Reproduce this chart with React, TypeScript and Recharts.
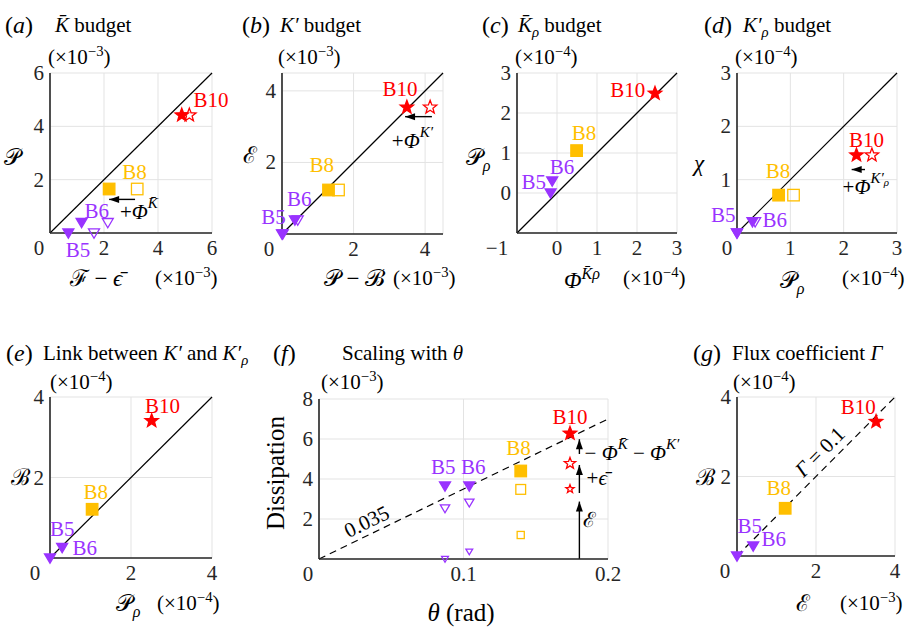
import React from "react";
import {
  ScatterChart,
  Scatter,
  XAxis,
  YAxis,
  CartesianGrid,
  ReferenceLine,
  ReferenceDot,
} from "recharts";

// run order for every array below: B5, B6, B8, B10
const RUNS = ["B5", "B6", "B8", "B10"];

// (a) K̄ budget, ×10^-3
const aFilledX = [0.68, 1.17, 2.19, 4.88];
const aOpenX = [1.63, 2.14, 3.23, 5.16];
const aY = [0, 0.39, 1.65, 4.42];
// (b) K' budget, ×10^-3
const bFilledX = [0, 0.36, 1.3, 3.49];
const bOpenX = [0.02, 0.44, 1.58, 4.14];
const bY = [0, 0.39, 1.23, 3.54];
// (c) K̄ρ budget, ×10^-4
const cX = [-0.16, -0.12, 0.49, 2.45];
const cY = [0, 0.3, 1.06, 2.49];
// (d) K'ρ budget, ×10^-4
const dFilledX = [0, 0.29, 0.78, 2.24];
const dOpenX = [0, 0.34, 1.06, 2.53];
const dY = [0, 0.21, 0.71, 1.46];
// (e) link between K' and K'ρ, ×10^-4
const eX = [0, 0.3, 1.04, 2.51];
const eY = [0, 0.26, 1.21, 3.41];
// (f) scaling with θ, dissipation ×10^-3
const fTheta = [0.0872, 0.104, 0.1396, 0.1737];
const fTotal = [3.65, 3.65, 4.4, 6.28];
const fWithMean = [2.53, 2.82, 3.48, 4.78];
const fEps = [0, 0.37, 1.2, 3.5];
// (g) flux coefficient, x ×10^-3, y ×10^-4
const gX = [0, 0.41, 1.22, 3.52];
const gY = [0, 0.25, 1.2, 3.38];

const SERIF = '"Liberation Serif", serif';
const PURPLE = "#9933ff";
const GOLD = "#ffbf00";
const RED = "#ff0000";
const AX = "#262626";
const GRID = "#e3e3e3";
const RUN_COLOR: Record<string, string> = { B5: PURPLE, B6: PURPLE, B8: GOLD, B10: RED };
const RUN_MARK: Record<string, string> = { B5: "tri", B6: "tri", B8: "sq", B10: "star" };

const CAL_P = "𝒫";
const CAL_B = "ℬ";
const CAL_E = "ℰ";
const CAL_F = "ℱ";

const PADL = 60;
const PADT = 30;
const PADB = 50;
const YW = 40;
const XH = 40;
const FS = 21;

const rows = (xs: number[], ys: number[]) => RUNS.map((run, i) => ({ run, x: xs[i], y: ys[i] }));

function starPath(cx: number, cy: number, R: number) {
  const r = R * 0.42;
  let d = "";
  for (let i = 0; i < 10; i++) {
    const a = (-90 + i * 36) * (Math.PI / 180);
    const rad = i % 2 === 0 ? R : r;
    d += (i === 0 ? "M" : "L") + (cx + rad * Math.cos(a)).toFixed(2) + "," + (cy + rad * Math.sin(a)).toFixed(2);
  }
  return d + "Z";
}

function Marker({ cx, cy, run, open, scale }: any) {
  const c = RUN_COLOR[run];
  const kind = RUN_MARK[run];
  const fill = open ? "none" : c;
  const sw = 1.3;
  if (kind === "star") {
    return <path d={starPath(cx, cy, 7 * scale)} fill={fill} stroke={c} strokeWidth={sw} />;
  }
  if (kind === "sq") {
    const s = 11.5 * scale;
    return <rect x={cx - s / 2} y={cy - s / 2} width={s} height={s} fill={fill} stroke={c} strokeWidth={sw} />;
  }
  const h = 5.5 * scale;
  return (
    <polygon
      points={`${cx - h},${cy - h * 0.75} ${cx + h},${cy - h * 0.75} ${cx},${cy + h * 0.95}`}
      fill={fill}
      stroke={c}
      strokeWidth={sw}
      strokeLinejoin="miter"
    />
  );
}

const markerShape = (open: boolean, scale = 1) => (p: any) =>
  <Marker cx={p.cx} cy={p.cy} run={p.payload.run} open={open} scale={scale} />;

function series(key: string, xs: number[], ys: number[], open: boolean, scale = 1) {
  return (
    <Scatter
      key={key}
      data={rows(xs, ys)}
      dataKey="y"
      isAnimationActive={false}
      shape={markerShape(open, scale)}
    />
  );
}

function runLabels(key: string, lx: number[], ly: number[]) {
  return RUNS.map((run, i) => (
    <ReferenceDot
      key={key + run}
      x={lx[i]}
      y={ly[i]}
      ifOverflow="visible"
      shape={(p: any) => (
        <text
          x={p.cx}
          y={p.cy}
          textAnchor="middle"
          dominantBaseline="central"
          fontFamily={SERIF}
          fontSize={FS}
          fill={RUN_COLOR[run]}
        >
          {run}
        </text>
      )}
    />
  ));
}

function arrow(key: string, x1: number, y1: number, x2: number, y2: number, dir: "left" | "up") {
  return [
    <ReferenceLine
      key={key + "l"}
      segment={[{ x: x1, y: y1 }, { x: x2, y: y2 }]}
      ifOverflow="visible"
      stroke="#000"
      strokeWidth={1.4}
    />,
    <ReferenceDot
      key={key + "h"}
      x={x2}
      y={y2}
      ifOverflow="visible"
      shape={(p: any) => {
        const { cx, cy } = p;
        const pts =
          dir === "left"
            ? `${cx},${cy} ${cx + 10},${cy - 3.5} ${cx + 10},${cy + 3.5}`
            : `${cx},${cy} ${cx - 3.5},${cy + 10} ${cx + 3.5},${cy + 10}`;
        return <polygon points={pts} fill="#000" />;
      }}
    />,
  ];
}

function note(key: string, x: number, y: number, content: React.ReactNode, anchor = "start", rotate = 0) {
  return (
    <ReferenceDot
      key={key}
      x={x}
      y={y}
      ifOverflow="visible"
      shape={(p: any) => (
        <text
          x={p.cx}
          y={p.cy}
          textAnchor={anchor}
          dominantBaseline="central"
          fontFamily={SERIF}
          fontSize={FS}
          fill="#000"
          transform={rotate ? `rotate(${rotate} ${p.cx} ${p.cy})` : undefined}
        >
          {content}
        </text>
      )}
    />
  );
}

function diag(key: string, x2: number, y2: number, dashed = false, x1 = 0, y1 = 0) {
  return (
    <ReferenceLine
      key={key}
      segment={[{ x: x1, y: y1 }, { x: x2, y: y2 }]}
      ifOverflow="visible"
      stroke="#000"
      strokeWidth={1.2}
      strokeDasharray={dashed ? "7 5" : undefined}
    />
  );
}

const xTick = (shift0: number) => (p: any) => {
  const v = p.payload.value;
  const label = v < 0 ? "\u2212" + Math.abs(v) : String(v);
  const dx = p.index === 0 ? -shift0 : 0;
  return (
    <text x={p.x + dx} y={p.y + 22} textAnchor="middle" fontFamily={SERIF} fontSize={FS} fill="#262626">
      {label}
    </text>
  );
};

const yTick = (p: any) => {
  if (p.index === 0) return <g />;
  const v = p.payload.value;
  const label = v < 0 ? "\u2212" + Math.abs(v) : String(v);
  return (
    <text x={p.x - 6} y={p.y + 7} textAnchor="end" fontFamily={SERIF} fontSize={FS} fill="#262626">
      {label}
    </text>
  );
};

function Panel({ r, xd, yd, xt, yt, shift0 = 12, padR = 70, items }: any) {
  const W = r.x1 - r.x0 + PADL + padR;
  const H = r.y1 - r.y0 + PADT + PADB;
  return (
    <div style={{ position: "absolute", left: r.x0 - PADL, top: r.y0 - PADT }}>
      <ScatterChart
        width={W}
        height={H}
        margin={{ top: PADT, right: padR, bottom: PADB - XH, left: PADL - YW }}
      >
        <CartesianGrid stroke={GRID} strokeWidth={1} />
        <XAxis
          type="number"
          dataKey="x"
          domain={xd}
          ticks={xt}
          interval={0}
          height={XH}
          tickSize={0}
          tickMargin={0}
          tickLine={false}
          axisLine={{ stroke: AX, strokeWidth: 1.6 }}
          tick={xTick(shift0)}
        />
        <YAxis
          type="number"
          dataKey="y"
          domain={yd}
          ticks={yt}
          interval={0}
          width={YW}
          tickSize={0}
          tickMargin={0}
          tickLine={false}
          axisLine={{ stroke: AX, strokeWidth: 1.6 }}
          tick={yTick}
        />
        {items}
      </ScatterChart>
    </div>
  );
}

function T({ x, y, s = FS, a = "middle", rot = 0, children }: any) {
  const tx = a === "middle" ? "-50%" : a === "end" ? "-100%" : "0";
  return (
    <div
      style={{
        position: "absolute",
        left: x,
        top: y,
        transform: `translate(${tx}, -50%)${rot ? ` rotate(${rot}deg)` : ""}`,
        transformOrigin: "center",
        fontSize: s,
        fontFamily: SERIF,
        whiteSpace: "nowrap",
        lineHeight: 1,
        color: "#000",
      }}
    >
      {children}
    </div>
  );
}

const Sup = ({ children }: any) => (
  <span style={{ fontSize: "0.7em", position: "relative", top: "-0.55em" }}>{children}</span>
);
const Sub = ({ children }: any) => (
  <span style={{ fontSize: "0.7em", position: "relative", top: "0.35em" }}>{children}</span>
);
const Mult = ({ e }: any) => (
  <span>
    (×10<Sup>{"\u2212" + e}</Sup>)
  </span>
);

function Title({ x, x2, y, letter, children }: any) {
  return [
    <T key="l" x={x} y={y} s={24} a="start">
      (<i>{letter}</i>)
    </T>,
    <T key="t" x={x2} y={y} s={21} a="start">
      {children}
    </T>,
  ];
}

export default function App() {
  return (
    <div style={{ position: "absolute", left: 0, top: 0, width: 906, height: 630, background: "#fff", overflow: "hidden" }}>
      {/* (a) */}
      <Panel
        r={{ x0: 50, y0: 73, x1: 212, y1: 233 }}
        xd={[0, 6]}
        yd={[0, 6]}
        xt={[0, 2, 4, 6]}
        yt={[0, 2, 4, 6]}
        shift0={11}
        items={[
          diag("a-d", 6, 6),
          series("a-o", aOpenX, aY, true),
          series("a-f", aFilledX, aY, false),
          ...arrow("a-ar", 3.15, 1.26, 2.19, 1.26, "left"),
          note("a-n", 2.59, 0.78, [
            <tspan key="1">+</tspan>,
            <tspan key="2" fontStyle="italic">Φ</tspan>,
            <tspan key="3" dy={-9} fontSize={15} fontStyle="italic">K̄</tspan>,
          ]),
          ...runLabels("a-l", [1.04, 1.73, 3.13, 5.96], [-0.64, 0.84, 2.28, 4.99]),
        ]}
      />
      {/* (b) */}
      <Panel
        r={{ x0: 282, y0: 73, x1: 443, y1: 234 }}
        xd={[0, 4.5]}
        yd={[0, 4.5]}
        xt={[0, 2, 4]}
        yt={[0, 2, 4]}
        shift0={13}
        items={[
          diag("b-d", 4.5, 4.5),
          series("b-o", bOpenX, bY, true),
          series("b-f", bFilledX, bY, false),
          ...arrow("b-ar", 4.19, 3.28, 3.44, 3.28, "left"),
          note("b-n", 3.07, 2.61, [
            <tspan key="1">+</tspan>,
            <tspan key="2" fontStyle="italic">Φ</tspan>,
            <tspan key="3" dy={-9} fontSize={15} fontStyle="italic">K′</tspan>,
          ]),
          ...runLabels("b-l", [-0.24, 0.48, 1.11, 3.3], [0.48, 0.97, 1.93, 4.05]),
        ]}
      />
      {/* (c) */}
      <Panel
        r={{ x0: 517, y0: 73, x1: 677, y1: 233 }}
        xd={[-1, 3]}
        yd={[-1, 3]}
        xt={[-1, 0, 1, 2, 3]}
        yt={[-1, 0, 1, 2, 3]}
        shift0={20}
        items={[
          diag("c-d", 3, 3, false, -1, -1),
          series("c-f", cX, cY, false),
          ...runLabels("c-l", [-0.58, 0.125, 0.675, 1.77], [0.28, 0.66, 1.49, 2.575]),
        ]}
      />
      {/* (d) */}
      <Panel
        r={{ x0: 737, y0: 73, x1: 897, y1: 233 }}
        xd={[0, 3]}
        yd={[0, 3]}
        xt={[0, 1, 2, 3]}
        yt={[0, 1, 2, 3]}
        shift0={10}
        items={[
          diag("d-d", 3, 3),
          series("d-o", dOpenX, dY, true),
          series("d-f", dFilledX, dY, false),
          ...arrow("d-ar", 2.4, 1.19, 2.15, 1.19, "left"),
          note("d-n", 1.98, 0.87, [
            <tspan key="1">+</tspan>,
            <tspan key="2" fontStyle="italic">Φ</tspan>,
            <tspan key="3" dy={-9} fontSize={15} fontStyle="italic">K′</tspan>,
            <tspan key="4" dy={4} fontSize={11} fontStyle="italic">ρ</tspan>,
          ]),
          ...runLabels("d-l", [-0.26, 0.71, 0.77, 2.43], [0.34, 0.24, 1.17, 1.74]),
        ]}
      />
      {/* (e) */}
      <Panel
        r={{ x0: 50, y0: 397, x1: 212, y1: 558 }}
        xd={[0, 4]}
        yd={[0, 4]}
        xt={[0, 2, 4]}
        yt={[0, 2, 4]}
        shift0={15}
        items={[
          diag("e-d", 4, 4),
          series("e-f", eX, eY, false),
          ...runLabels("e-l", [0.3, 0.86, 1.13, 2.78], [0.72, 0.26, 1.65, 3.78]),
        ]}
      />
      {/* (f) */}
      <Panel
        r={{ x0: 319, y0: 399, x1: 608, y1: 559 }}
        xd={[0, 0.2]}
        yd={[0, 8]}
        xt={[0, 0.1, 0.2]}
        yt={[0, 2, 4, 6, 8]}
        shift0={11}
        padR={110}
        items={[
          diag("f-d", 0.2, 7, true),
          series("f-e", fTheta, fEps, true, 0.62),
          series("f-m", fTheta, fWithMean, true, 0.85),
          series("f-t", fTheta, fTotal, false, 1),
          ...arrow("f-a1", 0.1802, 0, 0.1802, 2.87, "up"),
          ...arrow("f-a2", 0.1802, 3.3, 0.1802, 4.7, "up"),
          ...arrow("f-a3", 0.1802, 5.25, 0.1802, 5.99, "up"),
          note("f-n1", 0.1869, 1.95, <tspan>{CAL_E}</tspan>, "middle"),
          note("f-n2", 0.1852, 4.03, [
            <tspan key="1">+</tspan>,
            <tspan key="2" fontStyle="italic">ϵ̄</tspan>,
          ]),
          note("f-n3", 0.1838, 5.28, [
            <tspan key="1">− </tspan>,
            <tspan key="2" fontStyle="italic">Φ</tspan>,
            <tspan key="3" dy={-9} fontSize={15} fontStyle="italic">K̄</tspan>,
            <tspan key="4" dy={9}> − </tspan>,
            <tspan key="5" fontStyle="italic">Φ</tspan>,
            <tspan key="6" dy={-9} fontSize={15} fontStyle="italic">K′</tspan>,
          ]),
          note("f-n4", 0.033, 1.87, <tspan>0.035</tspan>, "middle", -26),
          ...runLabels("f-l", [0.086, 0.1068, 0.138, 0.1737], [4.6, 4.6, 5.55, 7.12]),
        ]}
      />
      {/* (g) */}
      <Panel
        r={{ x0: 737, y0: 397, x1: 895, y1: 556 }}
        xd={[0, 4]}
        yd={[0, 4]}
        xt={[0, 2, 4]}
        yt={[0, 2, 4]}
        shift0={12}
        items={[
          diag("g-d", 4, 4, true),
          series("g-f", gX, gY, false),
          note("g-n", 2.1, 2.62, [
            <tspan key="1" fontStyle="italic">Γ</tspan>,
            <tspan key="2"> = 0.1</tspan>,
          ], "middle", -45),
          ...runLabels("g-l", [0.32, 0.93, 1.06, 3.07], [0.75, 0.42, 1.71, 3.74]),
        ]}
      />

      {/* titles */}
      <Title x={5} x2={55} y={25} letter="a">
        <i>K̄</i> budget
      </Title>
      <Title x={242} x2={280} y={25} letter="b">
        <i>K′</i> budget
      </Title>
      <Title x={482} x2={518} y={25} letter="c">
        <i>K̄</i><Sub><i>ρ</i></Sub> budget
      </Title>
      <Title x={704} x2={743} y={25} letter="d">
        <i>K′</i><Sub><i>ρ</i></Sub> budget
      </Title>
      <Title x={6} x2={43} y={353} letter="e">
        Link between <i>K′</i> and <i>K′</i><Sub><i>ρ</i></Sub>
      </Title>
      <Title x={273} x2={342} y={353} letter="f">
        Scaling with <i>θ</i>
      </Title>
      <Title x={693} x2={732} y={353} letter="g">
        Flux coefficient <i>Γ</i>
      </Title>

      {/* multipliers above the y-axes */}
      <T x={48} y={57} a="start"><Mult e="3" /></T>
      <T x={278} y={57} a="start"><Mult e="3" /></T>
      <T x={515} y={57} a="start"><Mult e="4" /></T>
      <T x={735} y={57} a="start"><Mult e="4" /></T>
      <T x={50} y={382} a="start"><Mult e="4" /></T>
      <T x={321} y={382} a="start"><Mult e="3" /></T>
      <T x={733} y={382} a="start"><Mult e="4" /></T>

      {/* y labels */}
      <T x={12} y={157} s={23}>{CAL_P}</T>
      <T x={250} y={155} s={23}>{CAL_E}</T>
      <T x={478} y={157} s={23}>{CAL_P}<Sub><i>ρ</i></Sub></T>
      <T x={699} y={163} s={23}><i>χ</i></T>
      <T x={20} y={477} s={23}>{CAL_B}</T>
      <T x={275} y={473} s={25} rot={-90}>Dissipation</T>
      <T x={705} y={477} s={23}>{CAL_B}</T>

      {/* x labels */}
      <T x={96} y={278} s={23}>{CAL_F} − <i>ϵ̄</i></T>
      <T x={155} y={278} a="start"><Mult e="3" /></T>
      <T x={354} y={278} s={23}>{CAL_P} − {CAL_B}</T>
      <T x={393} y={278} a="start"><Mult e="3" /></T>
      <T x={582} y={280} s={23}><i>Φ</i><Sup><i>K̄ρ</i></Sup></T>
      <T x={623} y={278} a="start"><Mult e="4" /></T>
      <T x={792} y={280} s={23}>{CAL_P}<Sub><i>ρ</i></Sub></T>
      <T x={842} y={278} a="start"><Mult e="4" /></T>
      <T x={128} y={603} s={23}>{CAL_P}<Sub><i>ρ</i></Sub></T>
      <T x={157} y={603} a="start"><Mult e="4" /></T>
      <T x={461} y={612} s={25}><i>θ</i> (rad)</T>
      <T x={803} y={603} s={23}>{CAL_E}</T>
      <T x={840} y={603} a="start"><Mult e="3" /></T>
    </div>
  );
}
